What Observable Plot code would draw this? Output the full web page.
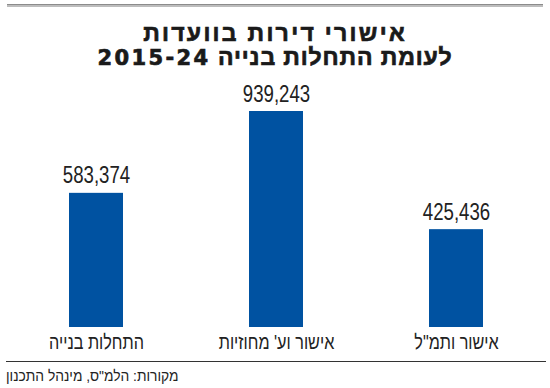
<!DOCTYPE html>
<html><head><meta charset="utf-8">
<script src="https://cdn.jsdelivr.net/npm/d3@7"></script>
<script src="https://cdn.jsdelivr.net/npm/@observablehq/plot@0.6"></script>
<style>
body{margin:0;background:#fff;}
#wrap{position:relative;width:550px;height:388px;background:#fff;overflow:hidden;}
#topRule{position:absolute;left:7px;width:536px;top:4px;height:0;border-top:1px solid #8c8c8c;border-bottom:2px solid #bdbdbd;}
#title{position:absolute;left:0;width:550px;top:21px;text-align:center;direction:rtl;font-family:"Liberation Sans","DejaVu Sans";font-weight:bold;font-size:23px;line-height:24px;color:#1a1a1a;-webkit-text-stroke:0.7px #1a1a1a;white-space:nowrap;}
#title .l1{letter-spacing:2.3px;}
#title .l2{letter-spacing:0.9px;}
#title .num{font-family:"DejaVu Sans";font-size:21px;letter-spacing:2.4px;}
#plot{position:absolute;left:0;top:80px;}
#botRule{position:absolute;left:6px;width:540px;top:361px;height:0;border-top:1.5px solid #333;}
#source{position:absolute;left:6px;top:368px;direction:rtl;font-family:"Liberation Sans";font-size:15px;line-height:15px;color:#222;transform:scaleX(0.92);transform-origin:left top;white-space:nowrap;}
</style></head>
<body><div id="wrap">
<div id="topRule"></div>
<div id="title"><span class="l1">אישורי דירות בוועדות</span><br><span class="l2">לעומת התחלות בנייה <span class="num">2015-24</span></span></div>
<div id="plot"></div>
<div id="botRule"></div>
<div id="source">מקורות: הלמ"ס, מינהל התכנון</div>
</div>
<script>
const categories = ["התחלות בנייה", "אישור וע' מחוזיות", "אישור ותמ\"ל"];
const values = [583374, 939243, 425436];

const data = categories.map((c, i) => ({cat: c, value: values[i]}));
const fmt = d3.format(",");
const font = "Liberation Sans, sans-serif";

const chart = Plot.plot({
  width: 550,
  height: 280,
  marginLeft: 6,
  marginRight: 4,
  marginTop: 31,
  marginBottom: 33,
  style: {fontFamily: font, background: "transparent"},
  x: {domain: categories, paddingInner: 0.7, paddingOuter: 0.35, axis: null},
  y: {domain: [0, d3.max(values)], axis: null},
  marks: [
    Plot.barY(data, {x: "cat", y: "value", fill: "#0052a1"}),
    Plot.text(data, {x: "cat", y: "value", text: d => fmt(d.value), dy: -10, lineAnchor: "bottom", fontSize: 23, fill: "#222", className: "vals"}),
    Plot.text(data, {x: "cat", y: 0, text: "cat", dy: 21, lineAnchor: "bottom", fontSize: 20.5, fill: "#222", className: "cats"})
  ]
});
document.getElementById("plot").appendChild(chart);
function squeeze(sel, k) {
  chart.querySelectorAll(sel).forEach(t => {
    const w = t.getComputedTextLength();
    t.setAttribute("textLength", (w * k).toFixed(1));
    t.setAttribute("lengthAdjust", "spacingAndGlyphs");
  });
}
squeeze(".vals text", 0.81);
squeeze(".cats text", 0.79);
</script>
</body></html>
